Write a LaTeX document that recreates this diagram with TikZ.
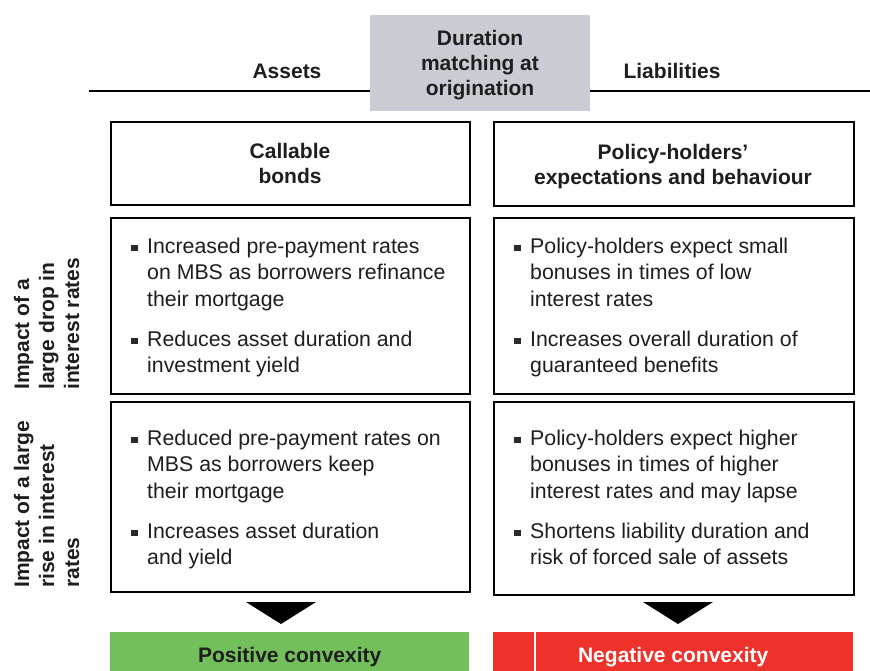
\documentclass[tikz,border=0pt]{standalone}
\usepackage{fontspec}
\setmainfont{Liberation Sans}
\definecolor{txt}{HTML}{1E1E1E}
\definecolor{hdrgray}{HTML}{C9CDD3}
\definecolor{posgreen}{HTML}{73BF5B}
\definecolor{negred}{HTML}{EE312A}
\definecolor{bulc}{HTML}{2A2A2A}
\newcommand{\bulitem}[1]{\llap{\textcolor{bulc}{\rule[2pt]{6.5pt}{6.5pt}}\hspace{9.5pt}}\parbox[t]{330pt}{\raggedright #1}}
\begin{document}
\begin{tikzpicture}[x=1pt,y=-1pt,
  cell/.style={draw=black, line width=1.5pt, fill=white, inner sep=0pt, anchor=north west},
  hdr/.style={font=\fontsize{21}{25}\selectfont\bfseries, text=txt, align=center},
  body/.style={font=\fontsize{21.3}{26.5}\selectfont, text=txt, inner sep=0pt, anchor=base west},
  lbl/.style={font=\fontsize{21}{25}\selectfont\bfseries, text=txt, inner sep=0pt, anchor=base west, rotate=90},
  bar/.style={inner sep=0pt, anchor=north west, minimum height=50pt, font=\fontsize{21}{25}\selectfont\bfseries},
  tri/.style={fill=black}]
\useasboundingbox (0,0) rectangle (870,670);

% top rule and header
\draw[line width=2.2pt] (89,91) -- (870,91);
\node[fill=hdrgray, minimum width=220, minimum height=96, inner sep=0pt, anchor=north west] (dm) at (370,15) {};
\node[hdr, inner sep=0pt, anchor=base] (dmt) at (480,95) {Duration\\matching at\\origination};
\node[hdr, inner sep=0pt] (assets) at (287,71) {Assets};
\node[hdr, inner sep=0pt] (liab) at (672,71) {Liabilities};

% column header boxes
\node[cell, minimum width=359, minimum height=83] (ah) at (110,121) {};
\node[cell, minimum width=360, minimum height=84] (lh) at (493,121) {};
\node[hdr, inner sep=0pt, anchor=base] (aht) at (290,183) {Callable\\bonds};
\node[hdr, inner sep=0pt, anchor=base] (lht) at (673,184) {Policy-holders’\\expectations and behaviour};

% content boxes
\node[cell, minimum width=359, minimum height=176] (a2) at (110,217) {};
\node[cell, minimum width=360, minimum height=176] (l2) at (493,217) {};
\node[cell, minimum width=359, minimum height=190] (a3) at (110,401) {};
\node[cell, minimum width=360, minimum height=193] (l3) at (493,401) {};

% bullets, drop in rates
\node[body] (a2b1) at (147,253) {\bulitem{Increased pre-payment rates\\on MBS as borrowers refinance\\their mortgage}};
\node[body] (a2b2) at (147,346) {\bulitem{Reduces asset duration and\\investment yield}};
\node[body] (l2b1) at (530,253) {\bulitem{Policy-holders expect small\\bonuses in times of low\\interest rates}};
\node[body] (l2b2) at (530,346) {\bulitem{Increases overall duration of\\guaranteed benefits}};

% bullets, rise in rates
\node[body] (a3b1) at (147,445) {\bulitem{Reduced pre-payment rates on\\MBS as borrowers keep\\their mortgage}};
\node[body] (a3b2) at (147,538) {\bulitem{Increases asset duration\\and yield}};
\node[body] (l3b1) at (530,445) {\bulitem{Policy-holders expect higher\\bonuses in times of higher\\interest rates and may lapse}};
\node[body] (l3b2) at (530,538) {\bulitem{Shortens liability duration and\\risk of forced sale of assets}};

% row labels
\node[lbl] (r1) at (29,390) {\parbox[t]{200pt}{Impact of a\\large drop in\\interest rates}};
\node[lbl] (r2) at (29,588) {\parbox[t]{200pt}{Impact of a large\\rise in interest\\rates}};

% arrows
\coordinate (ta) at (281,602);
\coordinate (tl) at (678,602);
\fill[tri] ([xshift=-35pt]ta) -- ([xshift=35pt]ta) -- ([yshift=-22pt]ta) -- cycle;
\fill[tri] ([xshift=-35pt]tl) -- ([xshift=35pt]tl) -- ([yshift=-22pt]tl) -- cycle;

% result bars
\node[bar, fill=posgreen, text=txt, minimum width=359] (pos) at (110,632) {Positive convexity};
\node[bar, fill=negred, text=white, minimum width=360] (neg) at (493,632) {Negative convexity};
\draw[white, line width=1.5pt] ([xshift=42pt]neg.north west) -- ([xshift=42pt]neg.south west);
\end{tikzpicture}
\end{document}
